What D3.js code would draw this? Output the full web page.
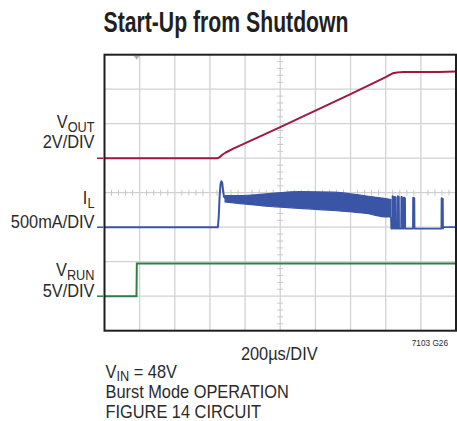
<!DOCTYPE html>
<html>
<head>
<meta charset="utf-8">
<script src="https://cdn.jsdelivr.net/npm/d3@7"></script>
<style>
  html, body { margin: 0; padding: 0; background: #fff; }
  svg { display: block; }
  text { font-family: "Liberation Sans", Arial, sans-serif; fill: #2a2a2a; }
</style>
</head>
<body>
<svg id="chart" width="457" height="421"></svg>
<script>
// ---------- data (time in µs, values in channel units) ----------
const TIME_DOMAIN = [0, 2000];          // 10 div × 200 µs
const DIVS_X = 10, DIVS_Y = 8;

// VOUT (V), 2V/DIV
const VOUT_T = [0, 645, 655, 670, 690, 730, 1000, 1200, 1400, 1600, 1620, 1640, 1665, 1700, 1800, 1900, 2000];
const VOUT_V = [0, 0, 0.06, 0.2, 0.33, 0.54, 1.80, 2.76, 3.72, 4.70, 4.82, 4.92, 4.97, 4.99, 4.99, 5.00, 5.02];

// IL (A), 500mA/DIV — start-up spike
const IL_T = [0, 645, 650, 655, 660, 665, 670, 675, 680, 688];
const IL_V = [0, 0, 0.15, 0.45, 0.62, 0.667, 0.64, 0.52, 0.44, 0.42];
// IL switching band envelope
const BAND_T  = [686, 771, 923, 1112, 1300, 1492, 1606, 1630];
const BAND_HI = [0.459, 0.459, 0.484, 0.517, 0.507, 0.452, 0.412, 0.401];
const BAND_LO = [0.365, 0.343, 0.304, 0.274, 0.242, 0.199, 0.148, 0.148];
// IL burst pulses after band
const BURST_START = [1638, 1650, 1668, 1688, 1703, 1755, 1917];
const BURST_END   = [1646, 1658, 1676, 1696, 1711, 1764, 1926];
const BURST_PEAK  = [0.45, 0.44, 0.45, 0.44, 0.43, 0.43, 0.42];
const IL_IDLE = -0.02;

// VRUN (V), 5V/DIV
const VRUN_T = [0, 182, 184, 2000];
const VRUN_V = [0, 0, 4.75, 4.75];

const TRIGGER_T = 183;

// channel settings: per-div and zero position (divisions from top)
const CHANNELS = [
  { name: "VOUT", main: "V", sub: "OUT", scale: "2V/DIV",    perDiv: 2,   zeroDiv: 3, color: "#a0173f" },
  { name: "IL",   main: "I", sub: "L",   scale: "500mA/DIV", perDiv: 0.5, zeroDiv: 5, color: "#3a55a5" },
  { name: "VRUN", main: "V", sub: "RUN", scale: "5V/DIV",    perDiv: 5,   zeroDiv: 7, color: "#2f7f47" }
];

const TITLE = "Start-Up from Shutdown";
const X_LABEL = "200µs/DIV";
const CODE = "7103 G26";
const NOTES = [["V", "IN", " = 48V"], ["Burst Mode OPERATION"], ["FIGURE 14 CIRCUIT"]];

// ---------- layout ----------
const L = 104.5, R = 456, T = 54.7, B = 330.7;
const svg = d3.select("#chart");

const x = d3.scaleLinear().domain(TIME_DOMAIN).range([L, R]);
const yDiv = d3.scaleLinear().domain([0, DIVS_Y]).range([T, B]);
CHANNELS.forEach(c => {
  c.y = d3.scaleLinear()
    .domain([-(DIVS_Y - c.zeroDiv) * c.perDiv, c.zeroDiv * c.perDiv])
    .range([B, T]);
});
const divW = (R - L) / DIVS_X, divH = (B - T) / DIVS_Y;

// ---------- title ----------
svg.append("text")
  .attr("x", 103.5).attr("y", 31.5)
  .attr("font-size", 29.5).attr("font-weight", "bold")
  .attr("textLength", 245).attr("lengthAdjust", "spacingAndGlyphs")
  .style("fill", "#231f20")
  .text(TITLE);

// ---------- grid ----------
const grid = svg.append("g");
d3.range(1, DIVS_X).forEach(i => {
  grid.append("line").attr("x1", L + i * divW).attr("x2", L + i * divW)
    .attr("y1", T).attr("y2", B).attr("stroke", "#d2d2d2").attr("stroke-width", 1.3);
});
d3.range(1, DIVS_Y).forEach(j => {
  grid.append("line").attr("x1", L).attr("x2", R)
    .attr("y1", yDiv(j)).attr("y2", yDiv(j)).attr("stroke", "#d2d2d2").attr("stroke-width", 1.3);
});
// center minor ticks
const cx = L + 5 * divW, cy = yDiv(4);
d3.range(1, DIVS_Y * 5).forEach(k => {
  if (k % 5 === 0) return;
  const yy = T + k * divH / 5;
  grid.append("line").attr("x1", cx - 3).attr("x2", cx + 3).attr("y1", yy).attr("y2", yy)
    .attr("stroke", "#c8c8c8").attr("stroke-width", 1);
});
d3.range(1, DIVS_X * 5).forEach(k => {
  if (k % 5 === 0) return;
  const xx = L + k * divW / 5;
  grid.append("line").attr("x1", xx).attr("x2", xx).attr("y1", cy - 3).attr("y2", cy + 3)
    .attr("stroke", "#c8c8c8").attr("stroke-width", 1);
});

// trigger marker
const tx = x(TRIGGER_T);
svg.append("path")
  .attr("d", `M${tx - 3},${T + 1}L${tx + 3},${T + 1}L${tx},${T + 5}Z`)
  .attr("fill", "#b0b0b0");

// ---------- traces ----------
const lineGen = (sc) => d3.line().x(d => x(d[0])).y(d => sc(d[1]));
const [chV, chI, chR] = CHANNELS;

svg.append("clipPath").attr("id", "plotclip")
  .append("rect").attr("x", L).attr("y", T).attr("width", R - L).attr("height", B - T);
const traces = svg.append("g").attr("clip-path", "url(#plotclip)");

// VOUT
traces.append("path")
  .datum(d3.zip(VOUT_T, VOUT_V))
  .attr("d", lineGen(chV.y))
  .attr("fill", "none").attr("stroke", chV.color).attr("stroke-width", 2).attr("stroke-linejoin", "round");

// IL band
const bandData = BAND_T.map((t, i) => ({ t, hi: BAND_HI[i], lo: BAND_LO[i] }));
traces.append("path")
  .datum(bandData)
  .attr("d", d3.area().x(d => x(d.t)).y0(d => chI.y(d.lo)).y1(d => chI.y(d.hi)).curve(d3.curveMonotoneX))
  .attr("fill", chI.color).attr("stroke", chI.color).attr("stroke-width", 1.2);

// IL start spike
traces.append("path")
  .datum(d3.zip(IL_T, IL_V))
  .attr("d", lineGen(chI.y))
  .attr("fill", "none").attr("stroke", chI.color).attr("stroke-width", 2).attr("stroke-linejoin", "round");

// IL tail with bursts
const tail = [[BAND_T[BAND_T.length - 1], BAND_LO[BAND_LO.length - 1]], [BAND_T[BAND_T.length - 1] + 2, IL_IDLE]];
BURST_START.forEach((s, i) => {
  const e = BURST_END[i];
  tail.push([s, IL_IDLE], [s + 1, BURST_PEAK[i]], [e - 1, BURST_PEAK[i] - 0.01], [e, IL_IDLE]);
});
tail.push([BURST_END[BURST_END.length - 1] + 2, 0], [TIME_DOMAIN[1], 0]);
traces.append("path")
  .datum(tail)
  .attr("d", lineGen(chI.y))
  .attr("fill", "none").attr("stroke", chI.color).attr("stroke-width", 1.8).attr("stroke-linejoin", "round");

// VRUN
traces.append("path")
  .datum(d3.zip(VRUN_T, VRUN_V))
  .attr("d", lineGen(chR.y))
  .attr("fill", "none").attr("stroke", chR.color).attr("stroke-width", 2);

// ---------- frame ----------
svg.append("rect").attr("x", L).attr("y", T).attr("width", R - L).attr("height", B - T)
  .attr("fill", "none").attr("stroke", "#1e1e1e").attr("stroke-width", 2);

// zero markers
CHANNELS.forEach(c => {
  svg.append("line").attr("x1", 97).attr("x2", L - 1)
    .attr("y1", c.y(0)).attr("y2", c.y(0))
    .attr("stroke", c.color).attr("stroke-width", 1.5);
});

// ---------- channel labels ----------
const SX = 0.91, FS = 18, SUBFS = 14;
const nameBase  = { VOUT: 127.5, IL: 203.5, VRUN: 276 };
const scaleBase = { VOUT: 147.7, IL: 227.5, VRUN: 296.5 };
CHANNELS.forEach(c => {
  const t1 = svg.append("text")
    .attr("transform", `translate(94.5,${nameBase[c.name]}) scale(${SX},1)`)
    .attr("text-anchor", "end").attr("font-size", FS);
  t1.append("tspan").text(c.main);
  t1.append("tspan").attr("font-size", SUBFS).attr("dy", 4).text(c.sub);
  svg.append("text")
    .attr("transform", `translate(94.5,${scaleBase[c.name]}) scale(${SX},1)`)
    .attr("text-anchor", "end").attr("font-size", FS)
    .text(c.scale);
});

// ---------- bottom texts ----------
svg.append("text")
  .attr("transform", `translate(${L + 5 * divW - 1},359.5) scale(${SX},1)`)
  .attr("text-anchor", "middle").attr("font-size", FS)
  .text(X_LABEL);
svg.append("text")
  .attr("transform", `translate(448,346) scale(0.92,1)`)
  .attr("text-anchor", "end").attr("font-size", 9)
  .text(CODE);

const noteBase = [377.5, 397.5, 417.5];
NOTES.forEach((parts, i) => {
  const t = svg.append("text")
    .attr("transform", `translate(105.5,${noteBase[i]}) scale(${SX},1)`)
    .attr("font-size", FS);
  t.append("tspan").text(parts[0]);
  if (parts.length > 1) {
    t.append("tspan").attr("font-size", SUBFS).attr("dy", 3.5).text(parts[1]);
    t.append("tspan").attr("dy", -3.5).text(parts[2]);
  }
});
</script>
</body>
</html>
